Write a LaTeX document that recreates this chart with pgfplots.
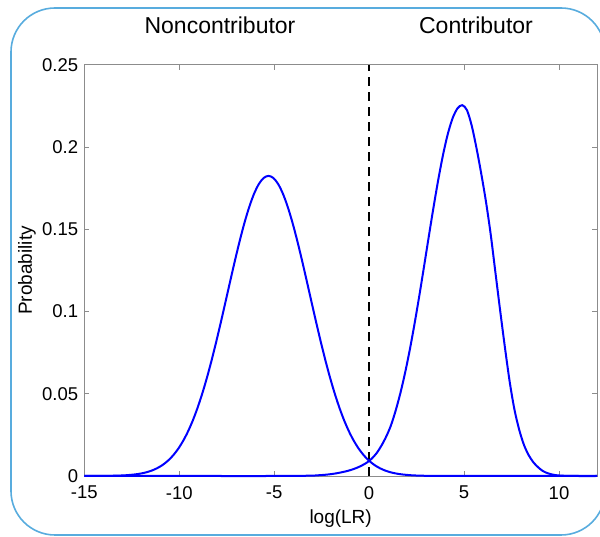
\documentclass[border=0pt]{standalone}
\usepackage{pgfplots}
\pgfplotsset{compat=1.18}
\usepackage{fontspec}
\setmainfont{Liberation Sans}

\definecolor{boxblue}{RGB}{88,172,222}
\definecolor{axgray}{RGB}{140,140,140}
\newcommand{\tickfont}{\fontsize{18.5bp}{22bp}\selectfont}
\newcommand{\labelfont}{\fontsize{19bp}{22bp}\selectfont}
\newcommand{\titlefont}{\fontsize{23bp}{26bp}\selectfont}

% noncontributor distribution
\pgfplotstableread{
x y
-15 0
-14.8 0.00001
-14.3 0.00003
-13.8 0.00009
-13.3 0.00020
-12.8 0.00046
-12.3 0.00100
-12.05 0.00145
-11.8 0.00205
-11.55 0.00288
-11.3 0.00399
-11.05 0.00545
-10.8 0.00735
-10.55 0.00977
-10.3 0.01283
-10.05 0.01662
-9.8 0.02124
-9.55 0.02680
-9.3 0.03336
-9.05 0.04098
-8.8 0.04967
-8.55 0.05943
-8.3 0.07014
-8.05 0.08172
-7.8 0.09393
-7.55 0.10656
-7.3 0.11928
-7.05 0.13177
-6.8 0.14364
-6.55 0.15452
-6.3 0.16403
-6.05 0.17183
-5.8 0.17762
-5.55 0.18119
-5.3 0.1824
-5.05 0.18119
-4.8 0.17762
-4.55 0.17183
-4.3 0.16403
-4.05 0.15452
-3.8 0.14364
-3.55 0.13177
-3.3 0.11928
-3.05 0.10656
-2.8 0.09393
-2.55 0.08172
-2.3 0.07014
-2.05 0.05943
-1.8 0.04967
-1.55 0.04098
-1.3 0.03336
-1.05 0.02680
-0.8 0.02124
-0.55 0.01662
-0.3 0.01283
-0.05 0.00977
0.2 0.00735
0.45 0.00545
0.7 0.00399
0.95 0.00288
1.2 0.00205
1.45 0.00145
1.7 0.00100
2.2 0.00046
2.7 0.00020
3.2 0.00009
3.7 0.00003
4.2 0.00001
5 0
8 0
12 0
}\noncontrib

% contributor distribution
\pgfplotstableread{
x y
-15 0
-10 0
-5 0
-4.1 0.00003
-3.6 0.0001
-3.1 0.0002
-2.85 0.0003
-2.6 0.0005
-2.35 0.0007
-2.1 0.0010
-1.85 0.0014
-1.6 0.0019
-1.35 0.0025
-1.1 0.0032
-0.85 0.0041
-0.6 0.0052
-0.35 0.0066
-0.1 0.0083
0.15 0.0107
0.4 0.0140
0.65 0.0185
0.9 0.0240
1.15 0.0308
1.4 0.0399
1.65 0.0506
1.9 0.0631
2.15 0.0773
2.4 0.0931
2.65 0.1101
2.9 0.1280
3.15 0.1462
3.4 0.1640
3.65 0.1807
3.9 0.1957
4.15 0.2082
4.4 0.2176
4.65 0.2234
4.9 0.2254
5.15 0.2224
5.4 0.2130
5.65 0.1995
5.9 0.1840
6.15 0.1669
6.4 0.1470
6.65 0.1237
6.9 0.1005
7.15 0.0782
7.4 0.0574
7.65 0.0405
7.9 0.0282
8.15 0.0190
8.4 0.0127
8.65 0.0083
8.9 0.0053
9.15 0.0030
9.4 0.0017
9.65 0.0009
9.9 0.0004
10.15 0.0002
10.4 0.0001
11 0
12 0
}\contrib

\begin{document}
\begin{tikzpicture}[x=1bp,y=1bp]
\useasboundingbox (0,0) rectangle (600,537);
\draw[boxblue, line width=1.6bp, rounded corners=44bp] (11,2) rectangle (605,529);
\begin{axis}[
  at={(84.3bp,61bp)}, anchor=south west,
  width=512.7bp, height=411.3bp, scale only axis,
  xmin=-15, xmax=12, ymin=0, ymax=0.25,
  xtick={-15,-10,-5,0,5,10}, xticklabels={-15,-10,-5,0,5,10},
  ytick={0,0.05,0.1,0.15,0.2,0.25}, yticklabels={0,0.05,0.1,0.15,0.2,0.25},
  axis line style={axgray, line width=0.6bp},
  major tick style={axgray, line width=0.6bp},
  major tick length=5bp,
  tick label style={font=\tickfont, inner sep=0pt},
  xticklabel style={anchor=north, yshift=-10bp},
  yticklabel style={anchor=east, xshift=-6bp},
  xlabel={log(LR)}, ylabel={Probability},
  label style={font=\labelfont},
  xlabel style={at={(axis description cs:0.5,-0.1045)}, anchor=center},
  ylabel style={at={(axis description cs:-0.1118,0.5)}, anchor=center},
  clip=false,
]
  % --- decision threshold ---
  \addplot[black, line width=1.5bp, dash pattern=on 9bp off 6bp] coordinates {(0,0) (0,0.25)};
  % --- the two distributions ---
  \addplot[blue, line width=2bp, smooth] table {\noncontrib};
  \addplot[blue, line width=2bp, smooth] table {\contrib};
\end{axis}
\node[font=\titlefont] at (220,512) {Noncontributor};
\node[font=\titlefont] at (476,512) {Contributor};
\end{tikzpicture}
\end{document}
